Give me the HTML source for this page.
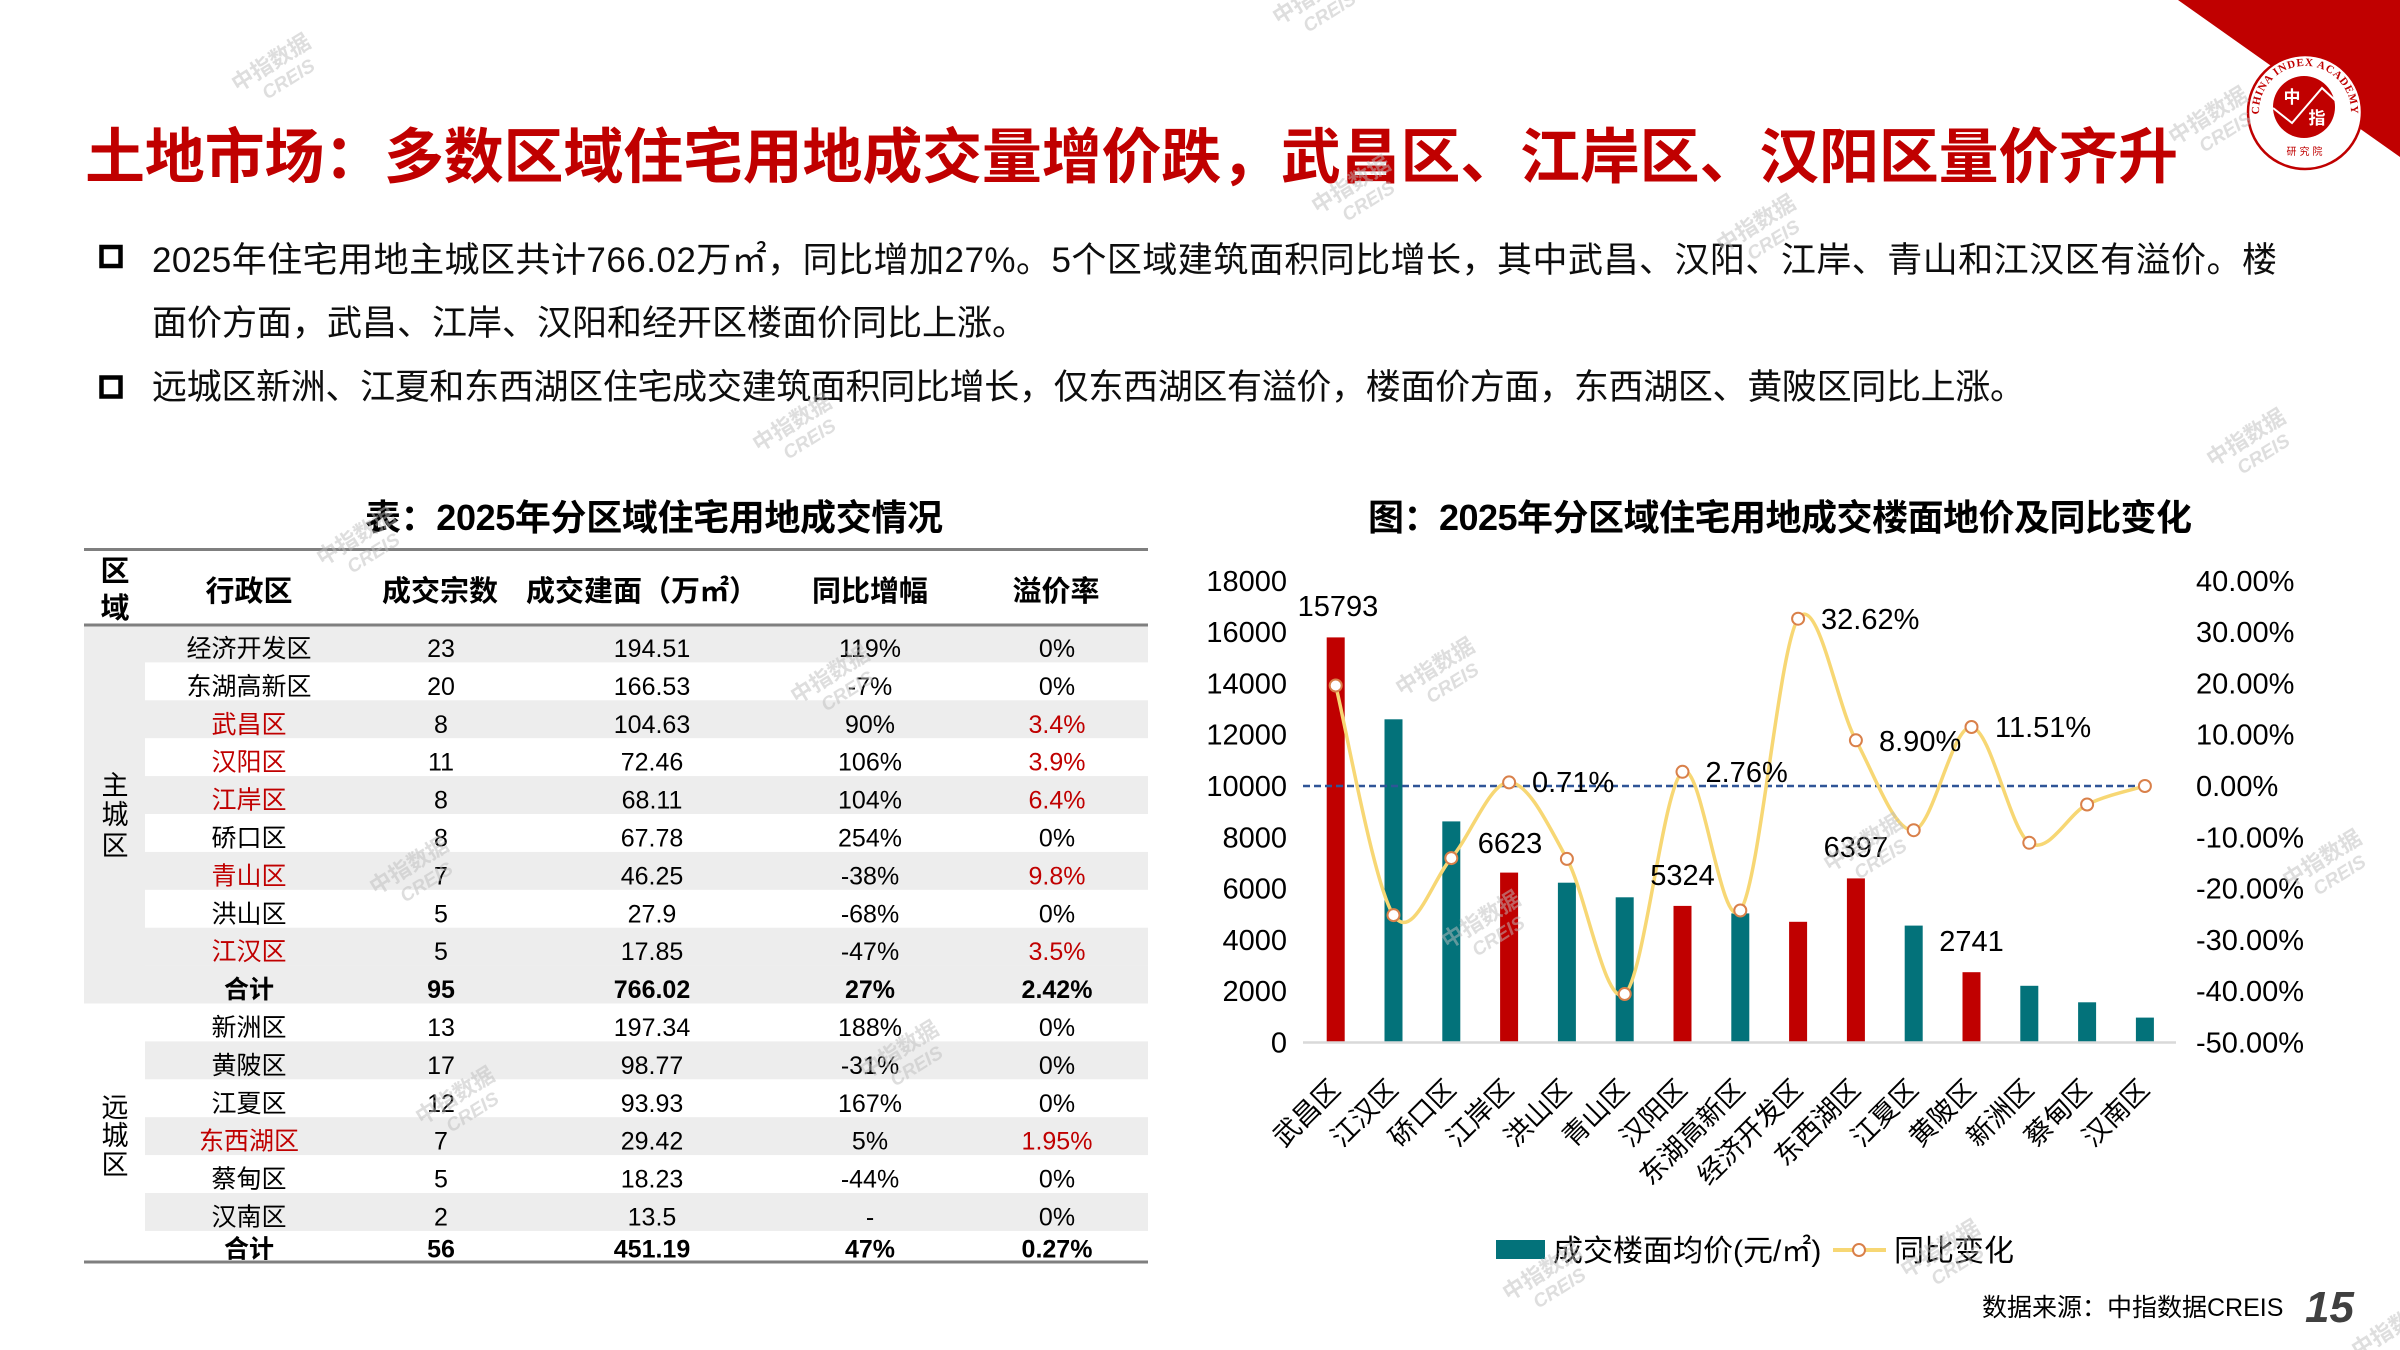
<!DOCTYPE html>
<html><head><meta charset="utf-8">
<style>html,body{margin:0;padding:0;background:#fff;width:2400px;height:1350px;overflow:hidden}svg{display:block}</style>
</head><body>
<svg width="2400" height="1350" viewBox="0 0 2400 1350" xmlns="http://www.w3.org/2000/svg" font-family="'Liberation Sans','Noto Sans CJK SC',sans-serif">
<rect width="2400" height="1350" fill="#fff"/>

<!-- top-right logo -->
<polygon points="2178,0 2400,0 2400,157" fill="#C00000"/>
<circle cx="2305" cy="112" r="57" fill="#fff" stroke="#C00000" stroke-width="2.5"/>
<circle cx="2304" cy="107" r="31" fill="#C00000"/>
<path id="ring" d="M2261.8,127.7 A46,46 0 1 1 2348.2,127.7" fill="none"/>
<text font-family="'Liberation Serif',serif" font-weight="bold" font-size="11" fill="#C00000" letter-spacing="0.8"><textPath href="#ring" startOffset="50%" text-anchor="middle">CHINA INDEX ACADEMY</textPath></text>
<polyline points="2273,108 2292,123 2322,88 2336,101" fill="none" stroke="#fff" stroke-width="2"/>
<text x="2292" y="103" font-size="17" font-weight="bold" fill="#fff" text-anchor="middle">中</text>
<text x="2317" y="124" font-size="17" font-weight="bold" fill="#fff" text-anchor="middle">指</text>
<text x="2306" y="155" font-size="10" fill="#C00000" text-anchor="middle" letter-spacing="3">研究院</text>

<!-- title -->
<text x="85" y="178" font-size="60" font-weight="bold" fill="#C00000" textLength="2093" lengthAdjust="spacing">土地市场：多数区域住宅用地成交量增价跌，武昌区、江岸区、汉阳区量价齐升</text>

<!-- bullets -->
<rect x="101.5" y="247" width="19" height="19" fill="none" stroke="#000" stroke-width="4.5"/>
<rect x="101.5" y="377.5" width="19" height="19" fill="none" stroke="#000" stroke-width="4.5"/>
<g font-size="35" fill="#0d0d0d">
<text x="152" y="272" textLength="2125" lengthAdjust="spacing">2025年住宅用地主城区共计766.02万㎡，同比增加27%。5个区域建筑面积同比增长，其中武昌、汉阳、江岸、青山和江汉区有溢价。楼</text>
<text x="152" y="335">面价方面，武昌、江岸、汉阳和经开区楼面价同比上涨。</text>
<text x="152" y="399" textLength="1873" lengthAdjust="spacing">远城区新洲、江夏和东西湖区住宅成交建筑面积同比增长，仅东西湖区有溢价，楼面价方面，东西湖区、黄陂区同比上涨。</text>
</g>

<!-- table title -->
<text x="365" y="530" font-size="36" font-weight="bold" fill="#000" textLength="578" lengthAdjust="spacing">表：2025年分区域住宅用地成交情况</text>

<!-- table backgrounds -->
<g fill="#EDEDED">
<rect x="84" y="624.5" width="61" height="379"/>
<rect x="145" y="624.5" width="1003" height="37.9"/>
<rect x="145" y="700.3" width="1003" height="37.9"/>
<rect x="145" y="776.1" width="1003" height="37.9"/>
<rect x="145" y="851.9" width="1003" height="37.9"/>
<rect x="145" y="927.7" width="1003" height="37.9"/>
<rect x="84" y="965.6" width="1064" height="37.9"/>
<rect x="145" y="1041.4" width="1003" height="37.9"/>
<rect x="145" y="1117.2" width="1003" height="37.9"/>
<rect x="145" y="1193.0" width="1003" height="37.9"/>
</g>
<g stroke="#7F7F7F" stroke-width="3">
<line x1="84" y1="549.5" x2="1148" y2="549.5"/>
<line x1="84" y1="625" x2="1148" y2="625"/>
<line x1="84" y1="1262" x2="1148" y2="1262"/>
</g>

<!-- table header -->
<g font-size="29" font-weight="bold" fill="#000" text-anchor="middle">
<text x="115" y="581">区</text>
<text x="115" y="618">域</text>
<text x="249" y="601">行政区</text>
<text x="440" y="601">成交宗数</text>
<text x="642" y="601">成交建面（万㎡）</text>
<text x="870" y="601">同比增幅</text>
<text x="1056" y="601">溢价率</text>
</g>

<!-- region labels -->
<g font-size="27" fill="#000" text-anchor="middle">
<text x="115" y="795">主</text><text x="115" y="824">城</text><text x="115" y="855">区</text>
<text x="115" y="1117">远</text><text x="115" y="1145">城</text><text x="115" y="1174">区</text>
</g>

<!-- table body -->
<g font-size="25" fill="#000" text-anchor="middle">
<text x="249" y="657">经济开发区</text><text x="441" y="657">23</text><text x="652" y="657">194.51</text><text x="870" y="657">119%</text><text x="1057" y="657">0%</text>
<text x="249" y="694.9">东湖高新区</text><text x="441" y="694.9">20</text><text x="652" y="694.9">166.53</text><text x="870" y="694.9">-7%</text><text x="1057" y="694.9">0%</text>
<text x="249" y="732.8" fill="#C00000">武昌区</text><text x="441" y="732.8">8</text><text x="652" y="732.8">104.63</text><text x="870" y="732.8">90%</text><text x="1057" y="732.8" fill="#C00000">3.4%</text>
<text x="249" y="770.7" fill="#C00000">汉阳区</text><text x="441" y="770.7">11</text><text x="652" y="770.7">72.46</text><text x="870" y="770.7">106%</text><text x="1057" y="770.7" fill="#C00000">3.9%</text>
<text x="249" y="808.6" fill="#C00000">江岸区</text><text x="441" y="808.6">8</text><text x="652" y="808.6">68.11</text><text x="870" y="808.6">104%</text><text x="1057" y="808.6" fill="#C00000">6.4%</text>
<text x="249" y="846.5">硚口区</text><text x="441" y="846.5">8</text><text x="652" y="846.5">67.78</text><text x="870" y="846.5">254%</text><text x="1057" y="846.5">0%</text>
<text x="249" y="884.4" fill="#C00000">青山区</text><text x="441" y="884.4">7</text><text x="652" y="884.4">46.25</text><text x="870" y="884.4">-38%</text><text x="1057" y="884.4" fill="#C00000">9.8%</text>
<text x="249" y="922.3">洪山区</text><text x="441" y="922.3">5</text><text x="652" y="922.3">27.9</text><text x="870" y="922.3">-68%</text><text x="1057" y="922.3">0%</text>
<text x="249" y="960.2" fill="#C00000">江汉区</text><text x="441" y="960.2">5</text><text x="652" y="960.2">17.85</text><text x="870" y="960.2">-47%</text><text x="1057" y="960.2" fill="#C00000">3.5%</text>
<g font-weight="bold"><text x="249" y="998.1">合计</text><text x="441" y="998.1">95</text><text x="652" y="998.1">766.02</text><text x="870" y="998.1">27%</text><text x="1057" y="998.1">2.42%</text></g>
<text x="249" y="1036">新洲区</text><text x="441" y="1036">13</text><text x="652" y="1036">197.34</text><text x="870" y="1036">188%</text><text x="1057" y="1036">0%</text>
<text x="249" y="1073.9">黄陂区</text><text x="441" y="1073.9">17</text><text x="652" y="1073.9">98.77</text><text x="870" y="1073.9">-31%</text><text x="1057" y="1073.9">0%</text>
<text x="249" y="1111.8">江夏区</text><text x="441" y="1111.8">12</text><text x="652" y="1111.8">93.93</text><text x="870" y="1111.8">167%</text><text x="1057" y="1111.8">0%</text>
<text x="249" y="1149.7" fill="#C00000">东西湖区</text><text x="441" y="1149.7">7</text><text x="652" y="1149.7">29.42</text><text x="870" y="1149.7">5%</text><text x="1057" y="1149.7" fill="#C00000">1.95%</text>
<text x="249" y="1187.6">蔡甸区</text><text x="441" y="1187.6">5</text><text x="652" y="1187.6">18.23</text><text x="870" y="1187.6">-44%</text><text x="1057" y="1187.6">0%</text>
<text x="249" y="1225.5">汉南区</text><text x="441" y="1225.5">2</text><text x="652" y="1225.5">13.5</text><text x="870" y="1225.5">-</text><text x="1057" y="1225.5">0%</text>
<g font-weight="bold"><text x="249" y="1257.5">合计</text><text x="441" y="1257.5">56</text><text x="652" y="1257.5">451.19</text><text x="870" y="1257.5">47%</text><text x="1057" y="1257.5">0.27%</text></g>
</g>

<!-- chart title -->
<text x="1368" y="530" font-size="36" font-weight="bold" fill="#000" textLength="824" lengthAdjust="spacing">图：2025年分区域住宅用地成交楼面地价及同比变化</text>

<!-- left axis labels -->
<g font-size="29" fill="#000" text-anchor="end">
<text x="1287" y="1052.5">0</text>
<text x="1287" y="1001.2">2000</text>
<text x="1287" y="949.9">4000</text>
<text x="1287" y="898.6">6000</text>
<text x="1287" y="847.3">8000</text>
<text x="1287" y="796">10000</text>
<text x="1287" y="744.7">12000</text>
<text x="1287" y="693.4">14000</text>
<text x="1287" y="642.1">16000</text>
<text x="1287" y="590.8">18000</text>
</g>
<!-- right axis labels -->
<g font-size="29" fill="#000">
<text x="2196" y="1052.5">-50.00%</text>
<text x="2196" y="1001.2">-40.00%</text>
<text x="2196" y="949.9">-30.00%</text>
<text x="2196" y="898.6">-20.00%</text>
<text x="2196" y="847.3">-10.00%</text>
<text x="2196" y="796">0.00%</text>
<text x="2196" y="744.7">10.00%</text>
<text x="2196" y="693.4">20.00%</text>
<text x="2196" y="642.1">30.00%</text>
<text x="2196" y="590.8">40.00%</text>
</g>

<!-- bars -->
<g>
<rect x="1326.7" y="637.4" width="18" height="405.1" fill="#C00000"/>
<rect x="1384.5" y="719.3" width="18" height="323.2" fill="#03727A"/>
<rect x="1442.3" y="821.4" width="18" height="221.1" fill="#03727A"/>
<rect x="1500.1" y="872.6" width="18" height="169.9" fill="#C00000"/>
<rect x="1557.9" y="882.7" width="18" height="159.8" fill="#03727A"/>
<rect x="1615.7" y="897.3" width="18" height="145.2" fill="#03727A"/>
<rect x="1673.5" y="905.9" width="18" height="136.6" fill="#C00000"/>
<rect x="1731.3" y="913.4" width="18" height="129.1" fill="#03727A"/>
<rect x="1789.1" y="921.8" width="18" height="120.7" fill="#C00000"/>
<rect x="1846.9" y="878.4" width="18" height="164.1" fill="#C00000"/>
<rect x="1904.7" y="925.6" width="18" height="116.9" fill="#03727A"/>
<rect x="1962.5" y="972.2" width="18" height="70.3" fill="#C00000"/>
<rect x="2020.3" y="985.8" width="18" height="56.7" fill="#03727A"/>
<rect x="2078.1" y="1002.3" width="18" height="40.2" fill="#03727A"/>
<rect x="2135.9" y="1017.6" width="18" height="24.9" fill="#03727A"/>
</g>
<line x1="1303" y1="1042.5" x2="2176" y2="1042.5" stroke="#D9D9D9" stroke-width="2.5"/>
<line x1="1303" y1="786" x2="2150" y2="786" stroke="#2F5597" stroke-width="2.5" stroke-dasharray="7 4"/>

<!-- smoothed line -->
<path d="M1335.7,685.5 C1345.33,723.77 1374.23,886.33 1393.5,915.1 C1412.77,943.87 1432.03,880.22 1451.3,858.1 C1470.57,835.98 1489.83,782.27 1509.1,782.4 C1528.37,782.53 1547.63,823.63 1566.9,858.9 C1586.17,894.17 1605.43,1008.52 1624.7,994 C1643.97,979.48 1663.23,785.72 1682.5,771.8 C1701.77,757.88 1721.03,936.02 1740.3,910.5 C1759.57,884.98 1778.83,647.07 1798.1,618.7 C1817.37,590.33 1836.63,705.05 1855.9,740.3 C1875.17,775.55 1894.43,832.42 1913.7,830.2 C1932.97,827.98 1952.23,724.9 1971.5,727 C1990.77,729.1 2010.03,829.88 2029.3,842.8 C2048.57,855.72 2067.83,813.97 2087.1,804.5 C2106.37,795.03 2135.27,789.08 2144.9,786" fill="none" stroke="#F7D774" stroke-width="3.5" stroke-linejoin="round"/>
<g fill="#fff" stroke="#D9804A" stroke-width="2">
<circle cx="1335.7" cy="685.5" r="6"/><circle cx="1393.5" cy="915.1" r="6"/><circle cx="1451.3" cy="858.1" r="6"/>
<circle cx="1509.1" cy="782.4" r="6"/><circle cx="1566.9" cy="858.9" r="6"/><circle cx="1624.7" cy="994" r="6"/>
<circle cx="1682.5" cy="771.8" r="6"/><circle cx="1740.3" cy="910.5" r="6"/><circle cx="1798.1" cy="618.7" r="6"/>
<circle cx="1855.9" cy="740.3" r="6"/><circle cx="1913.7" cy="830.2" r="6"/><circle cx="1971.5" cy="727" r="6"/>
<circle cx="2029.3" cy="842.8" r="6"/><circle cx="2087.1" cy="804.5" r="6"/><circle cx="2144.9" cy="786" r="6"/>
</g>

<!-- data labels -->
<g font-size="29" fill="#000">
<g text-anchor="middle">
<text x="1338" y="616">15793</text>
<text x="1510" y="853">6623</text>
<text x="1682.5" y="885">5324</text>
<text x="1855.9" y="857">6397</text>
<text x="1971.5" y="951">2741</text>
</g>
<text x="1532" y="792">0.71%</text>
<text x="1705.5" y="782">2.76%</text>
<text x="1821" y="629">32.62%</text>
<text x="1879" y="751">8.90%</text>
<text x="1995" y="737">11.51%</text>
</g>

<!-- x labels -->
<g font-size="27" fill="#000" text-anchor="end">
<text transform="translate(1341.7,1091) rotate(-45)">武昌区</text>
<text transform="translate(1399.5,1091) rotate(-45)">江汉区</text>
<text transform="translate(1457.3,1091) rotate(-45)">硚口区</text>
<text transform="translate(1515.1,1091) rotate(-45)">江岸区</text>
<text transform="translate(1572.9,1091) rotate(-45)">洪山区</text>
<text transform="translate(1630.7,1091) rotate(-45)">青山区</text>
<text transform="translate(1688.5,1091) rotate(-45)">汉阳区</text>
<text transform="translate(1746.3,1091) rotate(-45)">东湖高新区</text>
<text transform="translate(1804.1,1091) rotate(-45)">经济开发区</text>
<text transform="translate(1861.9,1091) rotate(-45)">东西湖区</text>
<text transform="translate(1919.7,1091) rotate(-45)">江夏区</text>
<text transform="translate(1977.5,1091) rotate(-45)">黄陂区</text>
<text transform="translate(2035.3,1091) rotate(-45)">新洲区</text>
<text transform="translate(2093.1,1091) rotate(-45)">蔡甸区</text>
<text transform="translate(2150.9,1091) rotate(-45)">汉南区</text>
</g>

<!-- legend -->
<rect x="1496" y="1240" width="49" height="19" fill="#03727A"/>
<text x="1553" y="1261" font-size="30" fill="#000">成交楼面均价(元/㎡)</text>
<line x1="1833" y1="1250" x2="1886" y2="1250" stroke="#F7D774" stroke-width="4"/>
<circle cx="1859" cy="1250" r="6" fill="#fff" stroke="#D9804A" stroke-width="2"/>
<text x="1894" y="1261" font-size="30" fill="#000">同比变化</text>

<!-- footer -->
<text x="1982" y="1316" font-size="25" fill="#000">数据来源：中指数据CREIS</text>
<text x="2305" y="1322" font-size="44" font-weight="bold" font-style="italic" fill="#404040">15</text>

<!-- watermarks -->
<g fill="#bdbdbd" fill-opacity="0.5" font-size="22" font-weight="bold" text-anchor="middle">
<g transform="translate(275,69) rotate(-32)"><text>中指数据</text><text x="6" y="22" font-size="19" font-style="italic">CREIS</text></g>
<g transform="translate(1316,2) rotate(-32)"><text>中指数据</text><text x="6" y="22" font-size="19" font-style="italic">CREIS</text></g>
<g transform="translate(2212,122) rotate(-32)"><text>中指数据</text><text x="6" y="22" font-size="19" font-style="italic">CREIS</text></g>
<g transform="translate(1355,191) rotate(-32)"><text>中指数据</text><text x="6" y="22" font-size="19" font-style="italic">CREIS</text></g>
<g transform="translate(1760,230) rotate(-32)"><text>中指数据</text><text x="6" y="22" font-size="19" font-style="italic">CREIS</text></g>
<g transform="translate(796,429) rotate(-32)"><text>中指数据</text><text x="6" y="22" font-size="19" font-style="italic">CREIS</text></g>
<g transform="translate(2250,444) rotate(-32)"><text>中指数据</text><text x="6" y="22" font-size="19" font-style="italic">CREIS</text></g>
<g transform="translate(360,543) rotate(-32)"><text>中指数据</text><text x="6" y="22" font-size="19" font-style="italic">CREIS</text></g>
<g transform="translate(834,681) rotate(-32)"><text>中指数据</text><text x="6" y="22" font-size="19" font-style="italic">CREIS</text></g>
<g transform="translate(1439,673) rotate(-32)"><text>中指数据</text><text x="6" y="22" font-size="19" font-style="italic">CREIS</text></g>
<g transform="translate(413,872) rotate(-32)"><text>中指数据</text><text x="6" y="22" font-size="19" font-style="italic">CREIS</text></g>
<g transform="translate(1485,926) rotate(-32)"><text>中指数据</text><text x="6" y="22" font-size="19" font-style="italic">CREIS</text></g>
<g transform="translate(1867,849) rotate(-32)"><text>中指数据</text><text x="6" y="22" font-size="19" font-style="italic">CREIS</text></g>
<g transform="translate(2326,865) rotate(-32)"><text>中指数据</text><text x="6" y="22" font-size="19" font-style="italic">CREIS</text></g>
<g transform="translate(459,1102) rotate(-32)"><text>中指数据</text><text x="6" y="22" font-size="19" font-style="italic">CREIS</text></g>
<g transform="translate(903,1056) rotate(-32)"><text>中指数据</text><text x="6" y="22" font-size="19" font-style="italic">CREIS</text></g>
<g transform="translate(1944,1255) rotate(-32)"><text>中指数据</text><text x="6" y="22" font-size="19" font-style="italic">CREIS</text></g>
<g transform="translate(1546,1278) rotate(-32)"><text>中指数据</text><text x="6" y="22" font-size="19" font-style="italic">CREIS</text></g>
<g transform="translate(2395,1335) rotate(-32)"><text>中指数据</text></g>
</g>
</svg>
</body></html>
